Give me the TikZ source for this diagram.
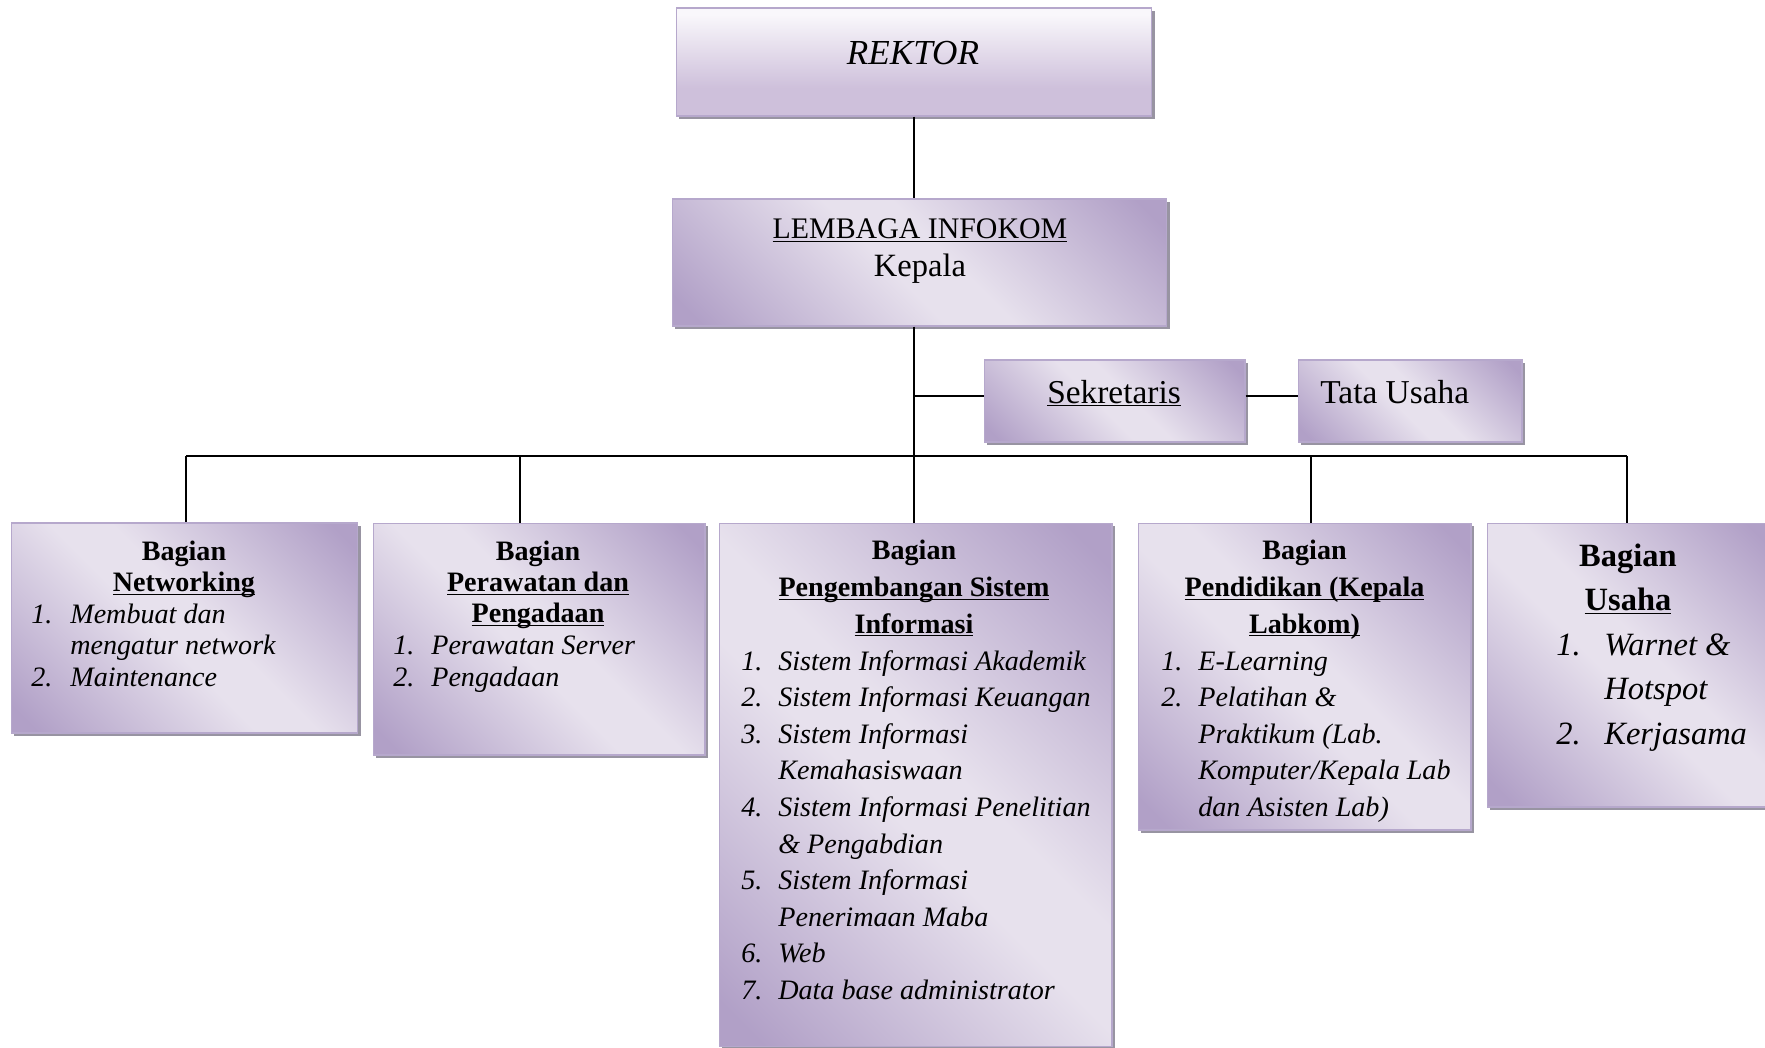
\documentclass[tikz,border=0pt]{standalone}
\usepackage{fontspec}
\setmainfont{Liberation Serif}
\usetikzlibrary{shadows,positioning}

\definecolor{infodark}{RGB}{177,160,199}
\definecolor{infolight}{RGB}{231,225,237}
\definecolor{boxedge}{RGB}{182,168,204}
\definecolor{shadowgray}{RGB}{152,148,162}
\definecolor{rektortop}{RGB}{249,247,251}
\definecolor{rektorbot}{RGB}{206,192,219}

\pgfdeclarehorizontalshading{infoshade}{100bp}{color(0bp)=(infodark); color(18bp)=(infodark); color(46bp)=(infolight); color(54bp)=(infolight); color(82bp)=(infodark); color(100bp)=(infodark)}
\pgfdeclareverticalshading{rektorshade}{100bp}{color(0bp)=(rektorbot); color(38bp)=(rektorbot); color(72bp)=(rektortop); color(100bp)=(rektortop)}

\newcommand{\garis}[1]{\underline{\smash{#1}}}
\newcommand{\judul}[1]{\begin{tabular}{@{}c@{}}#1\end{tabular}}
\newcommand{\daftar}[2]{\begin{tabular}{@{}p{#1}@{}l@{}}#2\end{tabular}}

\begin{document}
\begin{tikzpicture}[
        x=0.02cm, y=-0.02cm,
        kotak/.style={
            rectangle,
            draw=boxedge,
            line width=0.6pt,
            shade,
            shading=infoshade,
            shading angle=45,
            drop shadow={shadow xshift=0.06cm, shadow yshift=-0.06cm, fill=shadowgray, opacity=1},
            inner sep=0pt
        },
        kotakrektor/.style={kotak, shading=rektorshade, shading angle=0},
        teks/.style={inner sep=0pt},
        huruf/.style={font={\fontsize{16}{17.8}\selectfont}},
        hurufbesar/.style={font={\fontsize{16}{20.8}\selectfont}},
        garishub/.style={line width=1.2pt}
    ]
    \useasboundingbox (0,0) rectangle (1765,1048);
    \clip (0,0) rectangle (1765,1048);

    % kotak atas
    \node[kotakrektor, minimum width=9.52cm, minimum height=2.16cm] (rektor) at (914,62) {};
    \node[teks, anchor=base, font={\fontsize{20}{24}\selectfont\itshape}] (rektorteks) at (913,64) {REKTOR};

    \node[kotak, minimum width=9.9cm, minimum height=2.54cm] (lembaga) at (919.5,262.5) {};
    \node[teks, anchor=north, font={\fontsize{17}{21.6}\selectfont}] (lembagateks) at (920,212) {\judul{\garis{LEMBAGA INFOKOM}\\{\fontsize{18.5}{21.6}\selectfont Kepala}}};

    \node[kotak, minimum width=5.22cm, minimum height=1.64cm] (sekretaris) at (1114.5,401) {};
    \node[teks, anchor=base, font={\fontsize{19}{23}\selectfont}] (sekretaristeks) at (1114,403) {\garis{Sekretaris}};

    \node[kotak, minimum width=4.48cm, minimum height=1.64cm] (tatausaha) at (1410,401) {};
    \node[teks, anchor=base west, font={\fontsize{19}{23}\selectfont}] (tatausahateks) at (1320,403) {Tata Usaha};

    % bagian
    \node[kotak, minimum width=6.94cm, minimum height=4.2cm] (networking) at (184.5,628) {};
    \node[teks, huruf, anchor=north] (networkingjudul) at (184,538) {\judul{\textbf{Bagian}\\\textbf{\garis{Networking}}}};
    \node[teks, huruf, anchor=north west] (networkingisi) at (networkingjudul.south -| 31,0) {\itshape\daftar{0.78cm}{
        1. & Membuat dan\\
           & mengatur network\\
        2. & Maintenance}};

    \node[kotak, minimum width=6.64cm, minimum height=4.64cm] (perawatan) at (539,639) {};
    \node[teks, huruf, anchor=north] (perawatanjudul) at (538,538) {\judul{\textbf{Bagian}\\\textbf{\garis{Perawatan dan}}\\\textbf{\garis{Pengadaan}}}};
    \node[teks, huruf, anchor=north west] (perawatanisi) at (perawatanjudul.south -| 393,0) {\itshape\daftar{0.76cm}{
        1. & Perawatan Server\\
        2. & Pengadaan}};

    \node[kotak, minimum width=7.86cm, minimum height=10.48cm] (pengembangan) at (915.5,785) {};
    \node[teks, hurufbesar, anchor=north] (pengembanganjudul) at (914,534) {\judul{\textbf{Bagian}\\\textbf{\garis{Pengembangan Sistem}}\\\textbf{\garis{Informasi}}}};
    \node[teks, hurufbesar, anchor=north west] (pengembanganisi) at (pengembanganjudul.south -| 741,0) {\itshape\daftar{0.74cm}{
        1. & Sistem Informasi Akademik\\
        2. & Sistem Informasi Keuangan\\
        3. & Sistem Informasi\\
           & Kemahasiswaan\\
        4. & Sistem Informasi Penelitian\\
           & \& Pengabdian\\
        5. & Sistem Informasi\\
           & Penerimaan Maba\\
        6. & Web\\
        7. & Data base administrator}};

    \node[kotak, minimum width=6.66cm, minimum height=6.14cm] (pendidikan) at (1304.5,676.5) {};
    \node[teks, hurufbesar, anchor=north] (pendidikanjudul) at (1304.5,534) {\judul{\textbf{Bagian}\\\textbf{\garis{Pendidikan (Kepala}}\\\textbf{\garis{Labkom)}}}};
    \node[teks, hurufbesar, anchor=north west] (pendidikanisi) at (pendidikanjudul.south -| 1161,0) {\itshape\daftar{0.74cm}{
        1. & E-Learning\\
        2. & Pelatihan \&\\
           & Praktikum (Lab.\\
           & Komputer/Kepala Lab\\
           & dan Asisten Lab)}};

    \node[kotak, minimum width=5.76cm, minimum height=5.68cm] (usaha) at (1631,665) {};
    \node[teks, anchor=north, font={\fontsize{18.5}{25.2}\selectfont}] (usahajudul) at (1628,535) {\judul{\textbf{Bagian}\\\textbf{\garis{Usaha}}}};
    \node[teks, anchor=north west, font={\fontsize{18.5}{25.2}\selectfont}] (usahaisi) at (usahajudul.south -| 1556,0) {\itshape\daftar{0.96cm}{
        1. & Warnet \&\\
           & Hotspot\\
        2. & Kerjasama}};

    % garis penghubung
    \coordinate (bus) at (914,456);
    \coordinate (turunA) at ([xshift=0.03cm]networking.north);
    \coordinate (turunB) at ([xshift=-0.38cm]perawatan.north);
    \coordinate (turunC) at (rektor |- pengembangan.north);
    \coordinate (turunD) at ([xshift=0.13cm]pendidikan.north);
    \coordinate (turunE) at ([xshift=-0.08cm]usaha.north);

    \draw[garishub] (rektor.south) -- (rektor |- lembaga.north);
    \draw[garishub] (lembaga.south -| rektor) -- (turunC);
    \draw[garishub] ([yshift=0.1cm]sekretaris.west) -- ([yshift=0.1cm]sekretaris.west -| rektor);
    \draw[garishub] ([yshift=0.1cm]sekretaris.east) -- ([yshift=0.1cm]sekretaris.east -| tatausaha.west);
    \draw[garishub] (turunA |- bus) -- (turunE |- bus);
    \foreach \t in {turunA,turunB,turunD,turunE}
        \draw[garishub] (\t |- bus) -- (\t);

\end{tikzpicture}
\end{document}
